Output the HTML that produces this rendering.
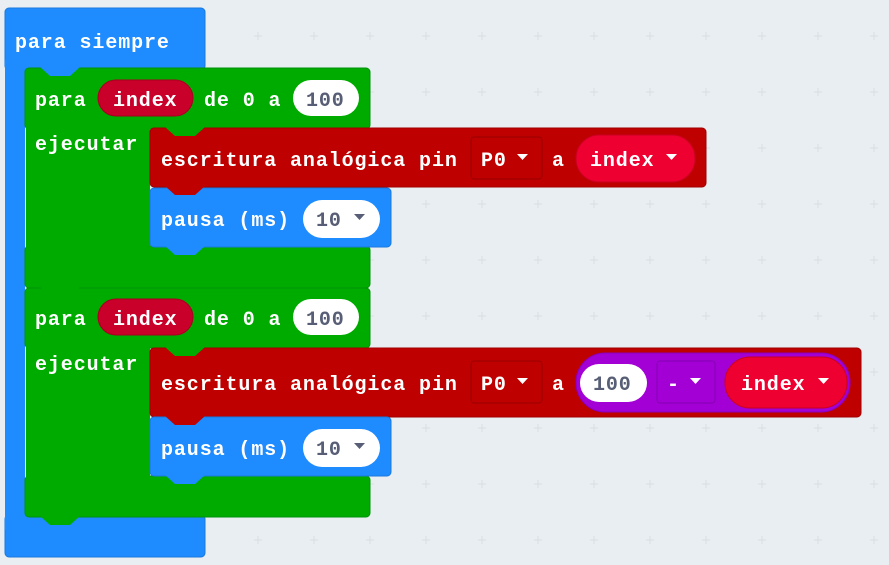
<!DOCTYPE html>
<html><head><meta charset="utf-8"><style>
html,body{margin:0;padding:0;background:#e9eef2;}
svg{display:block}
text{font-family:"Liberation Mono",monospace;font-weight:bold;font-size:20px;letter-spacing:0.9px;fill:#fff}
.d{fill:#575e75}
</style></head><body>
<svg width="889" height="565" viewBox="0 0 889 565" xmlns="http://www.w3.org/2000/svg">
<defs>
<pattern id="g" x="0" y="0" width="56" height="56" patternUnits="userSpaceOnUse">
<path d="M30 36h8M34 32v8" stroke="#d6dde2" stroke-width="1"/>
</pattern>
</defs>
<rect width="889" height="565" fill="#e9eef2"/>
<rect x="216" width="673" height="565" fill="url(#g)"/>

<!-- forever -->
<rect x="5" y="8" width="200" height="62" rx="4" fill="#1e8bff" stroke="#1a78dc"/>
<rect x="5" y="515" width="200" height="42" rx="4" fill="#1e8bff" stroke="#1a78dc"/>
<rect x="5" y="60" width="20" height="470" fill="#1e8bff"/>

<!-- loop1 -->
<rect x="25" y="68" width="345" height="61" rx="4" fill="#00ab00" stroke="#00930a"/>
<rect x="25" y="246" width="345" height="42" rx="4" fill="#00ab00" stroke="#00930a"/>
<rect x="26" y="120" width="124" height="140" fill="#00ab00"/>
<!-- loop2 -->
<rect x="25" y="288" width="345" height="60" rx="4" fill="#00ab00" stroke="#00930a"/>
<rect x="25" y="476" width="345" height="41" rx="4" fill="#00ab00" stroke="#00930a"/>
<rect x="26" y="340" width="124" height="150" fill="#00ab00"/>

<!-- red1 -->
<rect x="150" y="128" width="556" height="59" rx="4" fill="#bf0000" stroke="#a00000"/>
<!-- pause1 -->
<rect x="150" y="188" width="241" height="59" rx="4" fill="#1e8bff" stroke="#1a78dc"/>
<!-- red2 -->
<rect x="150" y="348" width="711" height="69" rx="4" fill="#bf0000" stroke="#a00000"/>
<!-- pause2 -->
<rect x="150" y="417" width="241" height="59" rx="4" fill="#1e8bff" stroke="#1a78dc"/>

<!-- tabs -->
<path d="M40 67 l10 9 h20 l10 -9z" fill="#1e8bff"/>
<path d="M165 127 l10 9 h20 l10 -9z" fill="#00ab00"/>
<path d="M165 186 l10 9 h20 l10 -9z" fill="#bf0000"/>
<path d="M165 246 l10 9 h20 l10 -9z" fill="#1e8bff"/>
<path d="M40 287 l10 9 h20 l10 -9z" fill="#00ab00"/>
<path d="M165 347 l10 9 h20 l10 -9z" fill="#00ab00"/>
<path d="M165 416 l10 9 h20 l10 -9z" fill="#bf0000"/>
<path d="M165 475 l10 9 h20 l10 -9z" fill="#1e8bff"/>
<path d="M40 516 l10 9 h20 l10 -9z" fill="#00ab00"/>

<text x="15" y="48">para siempre</text>

<text x="35" y="106">para</text>
<rect x="98" y="80" width="95" height="36" rx="18" fill="#c8002a" stroke="#a80020"/>
<text x="113" y="106">index</text>
<text x="204" y="106">de 0 a</text>
<rect x="293" y="80" width="66" height="36" rx="18" fill="#fff"/>
<text x="306" y="106" class="d">100</text>
<text x="35" y="150">ejecutar</text>

<text x="161" y="166">escritura analógica pin</text>
<rect x="471" y="137" width="71" height="42" rx="3" fill="#bf0000" stroke="#9a0000"/>
<text x="481" y="166">P0</text>
<path d="M517 154h11l-5.5 6z" fill="#fff"/>
<text x="552" y="166">a</text>
<rect x="576" y="135" width="119" height="47" rx="23" fill="#ee0030" stroke="#c80020"/>
<text x="590" y="166">index</text>
<path d="M666 154h11l-5.5 6z" fill="#fff"/>

<text x="161" y="226">pausa (ms)</text>
<rect x="303" y="200" width="77" height="38" rx="19" fill="#fff"/>
<text x="316" y="226" class="d">10</text>
<path d="M354 214h11l-5.5 6z" fill="#575e75"/>

<text x="35" y="325">para</text>
<rect x="98" y="299" width="95" height="36" rx="18" fill="#c8002a" stroke="#a80020"/>
<text x="113" y="325">index</text>
<text x="204" y="325">de 0 a</text>
<rect x="293" y="299" width="66" height="36" rx="18" fill="#fff"/>
<text x="306" y="325" class="d">100</text>
<text x="35" y="370">ejecutar</text>

<text x="161" y="390">escritura analógica pin</text>
<rect x="471" y="361" width="71" height="42" rx="3" fill="#bf0000" stroke="#9a0000"/>
<text x="481" y="390">P0</text>
<path d="M517 378h11l-5.5 6z" fill="#fff"/>
<text x="552" y="390">a</text>
<rect x="576" y="353" width="274" height="59" rx="29" fill="#a300d6" stroke="#8a00b8"/>
<rect x="580" y="364" width="67" height="38" rx="19" fill="#fff"/>
<text x="593" y="390" class="d">100</text>
<rect x="657" y="361" width="58" height="42" rx="3" fill="#a300d6" stroke="#8600b0"/>
<text x="667" y="390">-</text>
<path d="M690 378h11l-5.5 6z" fill="#fff"/>
<rect x="725" y="357" width="122" height="51" rx="25" fill="#ee0030" stroke="#c80020"/>
<text x="741" y="390">index</text>
<path d="M818 378h11l-5.5 6z" fill="#fff"/>

<text x="161" y="455">pausa (ms)</text>
<rect x="303" y="429" width="77" height="38" rx="19" fill="#fff"/>
<text x="316" y="455" class="d">10</text>
<path d="M354 443h11l-5.5 6z" fill="#575e75"/>
</svg>
</body></html>
